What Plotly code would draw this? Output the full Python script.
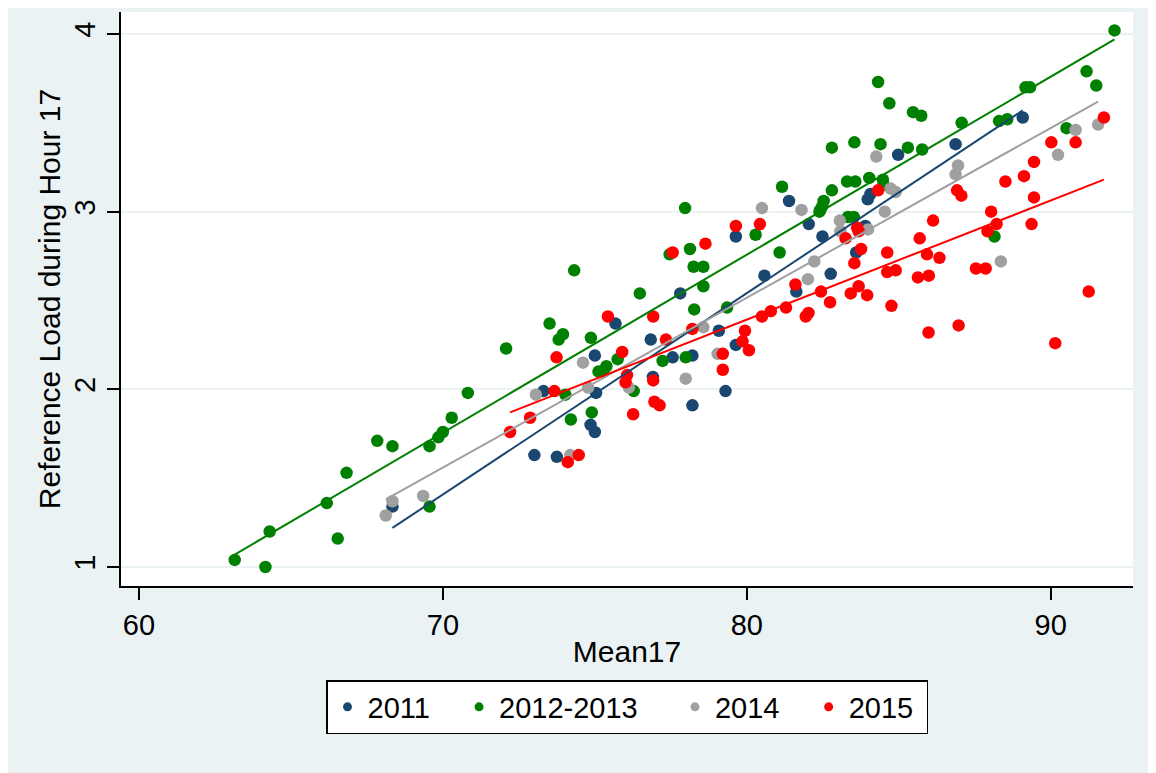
import plotly.graph_objects as go

# ---------------- data ----------------
x_2011 = [68.34, 73.01, 73.31, 73.75, 75.00, 75.04, 74.86, 75.00, 75.68, 76.84, 76.91, 77.56,
          78.21, 78.21, 77.81, 79.08, 79.30, 79.64, 79.64, 80.58, 81.63, 81.39, 82.04, 82.49,
          82.76, 83.60, 83.90, 83.98, 84.07, 84.98, 86.87, 89.08]
y_2011 = [1.34, 1.63, 1.99, 1.62, 2.19, 1.98, 1.80, 1.76, 2.37, 2.28, 2.07, 2.18,
          2.19, 1.91, 2.54, 2.33, 1.99, 2.25, 2.86, 2.64, 2.55, 3.06, 2.93, 2.86,
          2.65, 2.77, 2.92, 3.07, 3.10, 3.32, 3.38, 3.53]

x_1213 = [63.15, 64.16, 64.30, 66.18, 66.54, 66.83, 67.84, 68.34, 69.56, 69.56, 69.85, 70.00,
          70.29, 70.82, 72.08, 74.03, 74.21, 73.51, 73.81, 73.95, 74.32, 74.87, 75.12, 75.38,
          75.28, 74.90, 75.75, 76.28, 76.48, 77.23, 77.46, 77.99, 78.13, 78.25, 78.57, 78.57,
          78.27, 77.97, 79.35, 80.29, 81.08, 81.16, 82.39, 82.48, 82.53, 82.42, 83.33, 83.52,
          82.80, 83.30, 83.57, 84.03, 84.48, 84.50, 82.80, 83.54, 84.40, 85.30, 85.77, 85.74,
          85.47, 84.32, 84.69, 87.07, 88.30, 88.57, 89.17, 89.32, 90.52, 91.18, 91.50, 92.10,
          88.15]
y_1213 = [1.04, 1.00, 1.20, 1.36, 1.16, 1.53, 1.71, 1.68, 1.34, 1.68, 1.73, 1.76,
          1.84, 1.98, 2.23, 1.97, 1.83, 2.37, 2.28, 2.31, 2.67, 2.29, 2.10, 2.13,
          2.10, 1.87, 2.17, 1.99, 2.54, 2.16, 2.76, 2.18, 2.79, 2.69, 2.69, 2.58,
          2.45, 3.02, 2.46, 2.87, 2.77, 3.14, 3.00, 3.03, 3.06, 3.01, 2.97, 2.97,
          3.12, 3.17, 3.17, 3.19, 3.18, 3.15, 3.36, 3.39, 3.38, 3.36, 3.35, 3.54,
          3.56, 3.73, 3.61, 3.50, 3.51, 3.52, 3.70, 3.70, 3.47, 3.79, 3.71, 4.02,
          2.86]

x_2014 = [68.12, 68.34, 69.35, 73.06, 74.19, 74.61, 74.78, 76.12, 77.99, 78.57, 79.04, 80.50,
          81.80, 82.22, 82.01, 83.06, 83.08, 83.99, 84.54, 84.73, 84.90, 84.26, 86.95, 86.87,
          88.36, 90.24, 90.82, 91.56]
y_2014 = [1.29, 1.37, 1.40, 1.97, 1.63, 2.15, 2.01, 2.01, 2.06, 2.35, 2.20, 3.02,
          3.01, 2.72, 2.62, 2.95, 2.89, 2.90, 3.00, 3.13, 3.11, 3.31, 3.26, 3.21,
          2.72, 3.32, 3.46, 3.49]

x_2015 = [72.21, 72.87, 73.67, 74.47, 74.11, 73.74, 75.43, 75.90, 76.06, 76.01, 76.26, 76.92,
          76.92, 76.96, 77.13, 77.34, 77.56, 78.21, 78.64, 79.21, 79.21, 79.94, 79.86, 80.07,
          79.64, 80.43, 80.50, 80.79, 81.29, 81.60, 81.94, 82.03, 82.44, 82.74, 83.42, 83.68,
          83.96, 84.76, 84.62, 84.90, 84.62, 83.54, 83.76, 83.25, 83.63, 83.68, 84.32, 85.69,
          86.13, 85.93, 86.34, 85.63, 85.99, 85.98, 86.97, 87.54, 87.86, 87.92, 88.04, 88.22,
          86.92, 87.06, 88.51, 89.45, 89.37, 90.15, 91.25, 89.12, 89.45, 90.02, 90.82, 91.75]
y_2015 = [1.76, 1.84, 1.99, 1.63, 1.59, 2.18, 2.41, 2.21, 2.08, 2.04, 1.86, 2.41,
          2.05, 1.93, 1.91, 2.28, 2.77, 2.34, 2.82, 2.20, 2.11, 2.33, 2.27, 2.22,
          2.92, 2.93, 2.41, 2.44, 2.46, 2.59, 2.41, 2.43, 2.55, 2.49, 2.54, 2.58,
          2.53, 2.47, 2.66, 2.67, 2.77, 2.71, 2.79, 2.85, 2.91, 2.89, 3.12, 2.85,
          2.95, 2.76, 2.74, 2.63, 2.64, 2.32, 2.36, 2.68, 2.68, 2.89, 3.00, 2.93,
          3.12, 3.09, 3.17, 3.08, 2.93, 2.26, 2.55, 3.20, 3.28, 3.39, 3.39, 3.53]

# fitted-line values at the low and high end of each group's Mean17 range
fit_2011 = [1.22, 3.57]
fit_1213 = [1.07, 3.97]
fit_2014 = [1.38, 3.62]
fit_2015 = [1.87, 3.18]

series_names = ["2011", "2012-2013", "2014", "2015"]
x_ticks = [60, 70, 80, 90]
y_ticks = [1, 2, 3, 4]

# ---------------- styling ----------------
colors = ["#1A476F", "#008000", "#A0A0A0", "#FF0000"]
BG = "#EAF2F3"
FONT = "Liberation Sans, Arial, sans-serif"

xs = [x_2011, x_1213, x_2014, x_2015]
ys = [y_2011, y_1213, y_2014, y_2015]
fits = [fit_2011, fit_1213, fit_2014, fit_2015]

fig = go.Figure()
for xv, yv, c in zip(xs, ys, colors):
    fig.add_trace(go.Scatter(x=xv, y=yv, mode="markers", showlegend=False,
                             marker=dict(color=c, size=12.5, line=dict(width=0))))
for xv, fv, c in zip(xs, fits, colors):
    fig.add_trace(go.Scatter(x=[min(xv), max(xv)], y=fv, mode="lines", showlegend=False,
                             line=dict(color=c, width=2)))
NB = "\u00a0"
legend_pads = [3, 4, 3, 1]
for name, c, npad in zip(series_names, colors, legend_pads):
    fig.add_trace(go.Scatter(x=[None], y=[None], mode="markers", name=name + NB * npad,
                             marker=dict(color=c, size=9, line=dict(width=0))))

# the page body adds an 8px offset; figure coordinates below are page coordinates - 8
W, H = 1156, 773
L, T = 113, 4
R = W - 1125
B = H - 578
pw, ph = W - L - R, H - T - B

def px_x(p):
    return (p - L) / pw

def px_y(p):
    return (H - B - p) / ph

axis_common = dict(
    showline=True, linecolor="black", linewidth=2, mirror=False,
    ticks="outside", ticklen=12, tickwidth=2, tickcolor="black",
    tickfont=dict(family=FONT, size=29, color="black"),
    zeroline=False,
)

fig.update_xaxes(range=[59.408, 92.708], tickvals=x_ticks, showgrid=False,
                 title=dict(text="Mean17", font=dict(family=FONT, size=30, color="black"),
                            standoff=1),
                 **axis_common)
fig.update_yaxes(range=[0.8931, 4.1238], tickvals=y_ticks, tickangle=-90,
                 showgrid=True, gridcolor=BG, gridwidth=2,
                 title=dict(text="Reference Load during Hour 17",
                            font=dict(family=FONT, size=30, color="black"), standoff=0),
                 **axis_common)

fig.update_layout(
    width=W, height=H,
    margin=dict(l=L, r=R, t=T, b=B, autoexpand=False),
    paper_bgcolor=BG, plot_bgcolor="white",
    font=dict(family=FONT, color="black"),
    legend=dict(orientation="h", x=px_x(318), xanchor="left", y=px_y(672), yanchor="top",
                bordercolor="black", borderwidth=1.5, bgcolor="white",
                font=dict(family=FONT, size=29, color="black")),
)

fig.write_html("out.html")
